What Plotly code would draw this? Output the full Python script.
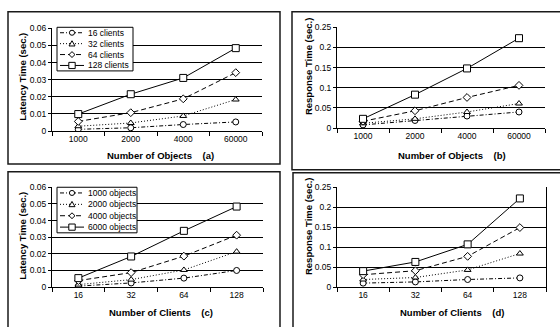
import plotly.graph_objects as go

W, H = 560, 327

# ---------------- data ----------------
objects_labels = ["1000", "2000", "4000", "60000"]
clients_labels = ["16", "32", "64", "128"]

client_series = ["16 clients", "32 clients", "64 clients", "128 clients"]
object_series = ["1000 objects", "2000 objects", "4000 objects", "6000 objects"]

# (a) latency time vs number of objects
lat_obj_16 = [0.0010, 0.0019, 0.0038, 0.0053]
lat_obj_32 = [0.0028, 0.0047, 0.0088, 0.0184]
lat_obj_64 = [0.0056, 0.0107, 0.0188, 0.0341]
lat_obj_128 = [0.0099, 0.0215, 0.0310, 0.0484]

# (b) response time vs number of objects
resp_obj_16 = [0.008, 0.019, 0.030, 0.040]
resp_obj_32 = [0.012, 0.023, 0.040, 0.061]
resp_obj_64 = [0.017, 0.043, 0.076, 0.106]
resp_obj_128 = [0.023, 0.083, 0.148, 0.223]

# (c) latency time vs number of clients
lat_cli_1000 = [0.0006, 0.0025, 0.0054, 0.0100]
lat_cli_2000 = [0.0015, 0.0045, 0.0103, 0.0213]
lat_cli_4000 = [0.0039, 0.0087, 0.0186, 0.0312]
lat_cli_6000 = [0.0054, 0.0184, 0.0338, 0.0484]

# (d) response time vs number of clients
resp_cli_1000 = [0.010, 0.013, 0.019, 0.023]
resp_cli_2000 = [0.019, 0.024, 0.043, 0.084]
resp_cli_4000 = [0.031, 0.041, 0.077, 0.149]
resp_cli_6000 = [0.040, 0.063, 0.107, 0.222]

# ---------------- styling ----------------
FONT = "Liberation Sans, Arial, sans-serif"
TICK_SIZE = 8.5
TITLE_SIZE = 9.5
LEG_SIZE = 8.5
styles = [
    dict(dash="4px,2px,1px,2px", symbol="circle", size=6),
    dict(dash="1px,2px", symbol="triangle-up", size=6),
    dict(dash="5px,3px", symbol="diamond", size=6),
    dict(dash="solid", symbol="square", size=7),
]


def px(x):
    return x / W


def py(y):
    return 1 - y / H


fig = go.Figure()

panels = [
    dict(xa="x", ya="y", cats=objects_labels, names=client_series,
         ys=[lat_obj_16, lat_obj_32, lat_obj_64, lat_obj_128]),
    dict(xa="x2", ya="y2", cats=objects_labels, names=client_series,
         ys=[resp_obj_16, resp_obj_32, resp_obj_64, resp_obj_128]),
    dict(xa="x3", ya="y3", cats=clients_labels, names=object_series,
         ys=[lat_cli_1000, lat_cli_2000, lat_cli_4000, lat_cli_6000]),
    dict(xa="x4", ya="y4", cats=clients_labels, names=object_series,
         ys=[resp_cli_1000, resp_cli_2000, resp_cli_4000, resp_cli_6000]),
]

for p in panels:
    for name, yv, st in zip(p["names"], p["ys"], styles):
        fig.add_trace(go.Scatter(
            x=p["cats"], y=yv, name=name, mode="lines+markers",
            xaxis=p["xa"], yaxis=p["ya"], showlegend=False,
            line=dict(color="black", width=1, dash=st["dash"]),
            marker=dict(symbol=st["symbol"], size=st["size"], color="white",
                        line=dict(color="black", width=1)),
        ))

# plot areas in pixels: (left, right, top, bottom)
areas = {
    "a": (52, 262, 24, 130),
    "b": (337, 545, 23, 127),
    "c": (52, 263, 188, 291),
    "d": (337, 546, 188, 291),
}


def xaxis_def(area, anchor):
    l, r, t, b = area
    return dict(domain=[px(l), px(r)], anchor=anchor, type="category",
                range=[-0.5, 3.5], showline=True, linecolor="black", linewidth=1,
                ticks="outside", tickson="boundaries", ticklen=4, tickcolor="black",
                showgrid=False, zeroline=False,
                tickfont=dict(family=FONT, size=TICK_SIZE, color="black"))


def yaxis_def(area, anchor, rng, dtick, mirror=False):
    l, r, t, b = area
    return dict(domain=[py(b), py(t)], anchor=anchor, range=rng, dtick=dtick,
                showline=True, linecolor="black", linewidth=1, mirror=mirror,
                ticks="outside", ticklen=3, tickcolor="black",
                showgrid=True, gridcolor="black", gridwidth=1, zeroline=False,
                tickfont=dict(family=FONT, size=TICK_SIZE, color="black"))


fig.update_layout(
    xaxis=xaxis_def(areas["a"], "y"),
    yaxis=yaxis_def(areas["a"], "x", [0, 0.06], 0.01),
    xaxis2=xaxis_def(areas["b"], "y2"),
    yaxis2=yaxis_def(areas["b"], "x2", [0, 0.25], 0.05),
    xaxis3=xaxis_def(areas["c"], "y3"),
    yaxis3=yaxis_def(areas["c"], "x3", [0, 0.06], 0.01),
    xaxis4=xaxis_def(areas["d"], "y4"),
    yaxis4=yaxis_def(areas["d"], "x4", [0, 0.25], 0.05, mirror=True),
)

shapes = []
annotations = []

# panel frames
frames = [(8, 280, 7, 164), (292, 566, 7, 170), (8, 280, 172, 335), (293, 566, 173, 335)]
for x0, x1, y0, y1 in frames:
    shapes.append(dict(type="rect", xref="paper", yref="paper",
                       x0=px(x0), x1=px(x1), y0=py(y1), y1=py(y0),
                       line=dict(color="#1a1a1a", width=1.5), layer="above"))

# axis titles
NB = "\u00a0"
titles = [
    ("Number of Objects" + NB * 4 + "(a)", 160, 155, 0),
    ("Number of Objects" + NB * 4 + "(b)", 452, 155, 0),
    ("Number of Clients" + NB * 4 + "(c)", 161, 317, 0),
    ("Number of Clients" + NB * 4 + "(d)", 452, 317, 0),
    ("Latency Time (sec.)", 23, 74, -90),
    ("Response Time (sec.)", 308, 63, -90),
    ("Latency Time (sec.)", 23, 238, -90),
    ("Response Time (sec.)", 308, 228, -90),
]
for text, x, y, ang in titles:
    annotations.append(dict(text="<b>" + text + "</b>", xref="paper", yref="paper",
                            x=px(x), y=py(y), xanchor="center", yanchor="middle",
                            showarrow=False, textangle=ang,
                            font=dict(family=FONT, size=TITLE_SIZE, color="black")))


# custom legends
def marker_shape(sym, cx, cy):
    fill = dict(fillcolor="white", line=dict(color="black", width=1),
                xref="paper", yref="paper", layer="above")
    if sym == "circle":
        r = 2.6
        return dict(type="circle", x0=px(cx - r), x1=px(cx + r), y0=py(cy + r), y1=py(cy - r), **fill)
    if sym == "square":
        r = 3.2
        return dict(type="rect", x0=px(cx - r), x1=px(cx + r), y0=py(cy + r), y1=py(cy - r), **fill)
    if sym == "triangle-up":
        r = 3.0
        path = "M {} {} L {} {} L {} {} Z".format(px(cx), py(cy - r), px(cx + r), py(cy + r * 0.8),
                                                  px(cx - r), py(cy + r * 0.8))
        return dict(type="path", path=path, **fill)
    r = 3.0
    path = "M {} {} L {} {} L {} {} L {} {} Z".format(px(cx), py(cy - r), px(cx + r), py(cy),
                                                      px(cx), py(cy + r), px(cx - r), py(cy))
    return dict(type="path", path=path, **fill)


def add_legend(box, names):
    x0, x1, y0, y1 = box
    shapes.append(dict(type="rect", xref="paper", yref="paper",
                       x0=px(x0), x1=px(x1), y0=py(y1), y1=py(y0),
                       fillcolor="white", line=dict(color="black", width=1), layer="above"))
    step = (y1 - y0) / 4
    for i, (name, st) in enumerate(zip(names, styles)):
        cy = y0 + step * (i + 0.5)
        shapes.append(dict(type="line", xref="paper", yref="paper",
                           x0=px(x0 + 3), x1=px(x0 + 27), y0=py(cy), y1=py(cy),
                           line=dict(color="black", width=1, dash=st["dash"]), layer="above"))
        shapes.append(marker_shape(st["symbol"], x0 + 15, cy))
        annotations.append(dict(text=name, xref="paper", yref="paper",
                                x=px(x0 + 29), y=py(cy), xanchor="left", yanchor="middle",
                                showarrow=False,
                                font=dict(family=FONT, size=LEG_SIZE, color="black")))


add_legend((57, 133, 23, 68), client_series)
add_legend((57, 137, 188, 235), object_series)

fig.update_layout(
    width=W, height=H, margin=dict(l=0, r=0, t=0, b=0),
    paper_bgcolor="white", plot_bgcolor="white",
    shapes=shapes, annotations=annotations,
    font=dict(family=FONT, size=8, color="black"),
    showlegend=False,
)

fig.write_html("out.html")
